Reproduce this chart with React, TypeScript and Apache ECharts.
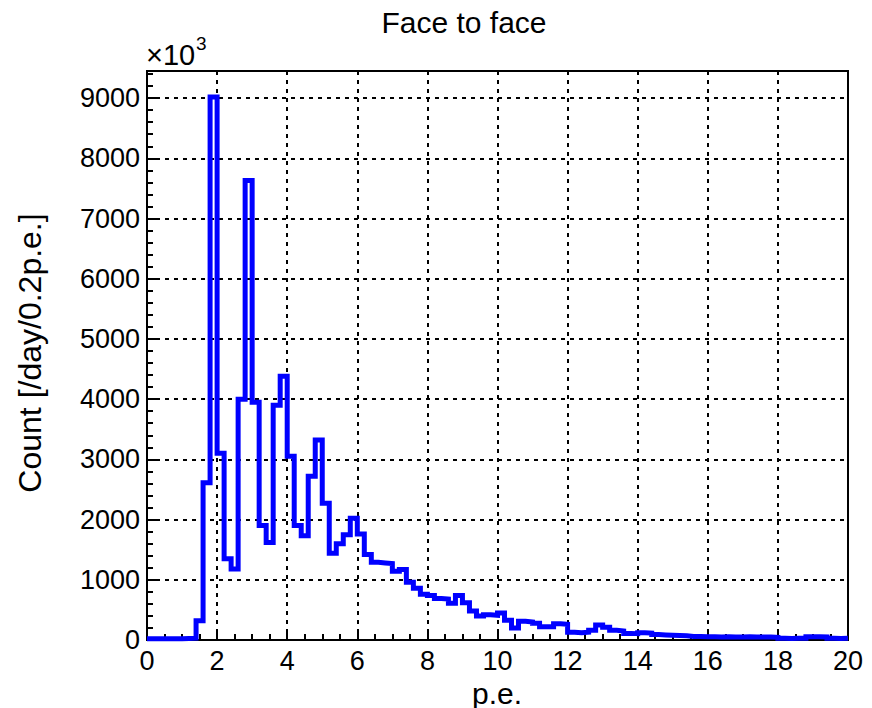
import React, { useEffect, useRef } from "react";
import * as echarts from "echarts";

// Histogram: counts (in units of 10^3) per 0.2 p.e. bin, from 0 to 20 p.e.
const BIN_WIDTH = 0.2;
const counts: number[] = [
  20, 20, 20, 20, 20, 25, 30, 320, 2610, 9020,
  3100, 1350, 1180, 4000, 7630, 3950, 1900, 1620, 3900, 4380,
  3050, 1900, 1730, 2720, 3320, 2270, 1440, 1600, 1750, 2020,
  1760, 1420, 1290, 1280, 1270, 1140, 1170, 960, 860, 760,
  740, 690, 680, 610, 740, 620, 480, 400, 420, 410,
  450, 330, 200, 310, 300, 280, 220, 220, 270, 260,
  130, 120, 130, 160, 250, 210, 160, 150, 110, 105,
  120, 115, 90, 85, 80, 75, 70, 60, 60, 55,
  55, 50, 55, 50, 50, 55, 50, 50, 50, 45,
  30, 25, 30, 30, 55, 55, 50, 30, 25, 30,
];
const xTickLabels = ["0", "2", "4", "6", "8", "10", "12", "14", "16", "18", "20"];
const yTickLabels = ["0", "1000", "2000", "3000", "4000", "5000", "6000", "7000", "8000", "9000"];

const TITLE = "Face to face";
const X_NAME = "p.e.";
const Y_NAME = "Count [/day/0.2p.e.]";

const FONT = "Liberation Sans, Arial, Helvetica, sans-serif";

export default function App() {
  const ref = useRef<HTMLDivElement>(null);

  useEffect(() => {
    if (!ref.current) return;
    const chart = echarts.init(ref.current, undefined, { renderer: "svg" });

    const stepData: [number, number][] = counts.map((c, i) => [
      +(i * BIN_WIDTH).toFixed(2),
      c,
    ]);
    stepData.push([+(counts.length * BIN_WIDTH).toFixed(2), counts[counts.length - 1]]);

    const xMin = Number(xTickLabels[0]);
    const xMax = Number(xTickLabels[xTickLabels.length - 1]);
    const yMax = 9450;

    const labelStyle = {
      color: "#000",
      fontFamily: FONT,
      fontSize: 27,
    };

    chart.setOption({
      animation: false,
      backgroundColor: "#fff",
      grid: {
        left: 147,
        right: 24,
        top: 71,
        bottom: 68,
        show: true,
        borderColor: "#000",
        borderWidth: 2,
        backgroundColor: "transparent",
      },
      xAxis: [
        {
          type: "value",
          min: xMin,
          max: xMax,
          interval: 2,
          axisLine: { show: true, lineStyle: { color: "#000", width: 2 } },
          axisTick: { show: true, inside: true, length: 11, lineStyle: { color: "#000", width: 2 } },
          axisLabel: {
            ...labelStyle,
            margin: 7,
            showMinLabel: true,
            showMaxLabel: true,
            formatter: (v: number) => (xTickLabels.includes(String(v)) ? String(v) : ""),
          },
          splitLine: { show: true, lineStyle: { color: "#000", width: 2, type: [4, 5] } },
        },
        {
          type: "value",
          position: "bottom",
          min: xMin,
          max: xMax,
          interval: 0.5,
          axisLine: { show: false },
          axisTick: { show: true, inside: true, length: 6, lineStyle: { color: "#000", width: 2 } },
          axisLabel: { show: false },
          splitLine: { show: false },
        },
      ],
      yAxis: [
        {
          type: "value",
          min: 0,
          max: yMax,
          interval: 1000,
          axisLine: { show: true, lineStyle: { color: "#000", width: 2 } },
          axisTick: { show: true, inside: true, length: 11, lineStyle: { color: "#000", width: 2 } },
          axisLabel: {
            ...labelStyle,
            margin: 7,
            showMaxLabel: false,
            formatter: (v: number) => (yTickLabels.includes(String(v)) ? String(v) : ""),
          },
          splitLine: { show: true, lineStyle: { color: "#000", width: 2, type: [4, 5] } },
        },
        {
          type: "value",
          position: "left",
          min: 0,
          max: yMax,
          interval: 200,
          axisLine: { show: false },
          axisTick: { show: true, inside: true, length: 6, lineStyle: { color: "#000", width: 2 } },
          axisLabel: { show: false },
          splitLine: { show: false },
        },
      ],
      series: [
        {
          type: "line",
          step: "end",
          data: stepData,
          xAxisIndex: 0,
          yAxisIndex: 0,
          symbol: "none",
          clip: true,
          lineStyle: { color: "#0000ff", width: 5, join: "miter", cap: "butt" },
          z: 3,
        },
      ],
      graphic: [
        {
          type: "text",
          x: 464,
          y: 22,
          style: {
            text: TITLE,
            fontFamily: FONT,
            fontSize: 30,
            fill: "#000",
            textAlign: "center",
            textVerticalAlign: "middle",
          },
        },
        {
          type: "text",
          x: 30,
          y: 353,
          rotation: Math.PI / 2,
          style: {
            text: Y_NAME,
            fontFamily: FONT,
            fontSize: 32,
            fill: "#000",
            textAlign: "center",
            textVerticalAlign: "middle",
          },
        },
        {
          type: "text",
          x: 497,
          y: 693,
          style: {
            text: X_NAME,
            fontFamily: FONT,
            fontSize: 30,
            fill: "#000",
            textAlign: "center",
            textVerticalAlign: "middle",
          },
        },
        {
          type: "text",
          x: 146,
          y: 69,
          style: {
            text: "×10",
            fontFamily: FONT,
            fontSize: 29,
            fill: "#000",
            textAlign: "left",
            textVerticalAlign: "bottom",
          },
        },
        {
          type: "text",
          x: 196,
          y: 53,
          style: {
            text: "3",
            fontFamily: FONT,
            fontSize: 19,
            fill: "#000",
            textAlign: "left",
            textVerticalAlign: "bottom",
          },
        },
      ],
    });

    return () => chart.dispose();
  }, []);

  return (
    <div
      ref={ref}
      style={{ position: "fixed", left: 0, top: 0, width: 872, height: 708, background: "#fff" }}
    />
  );
}
